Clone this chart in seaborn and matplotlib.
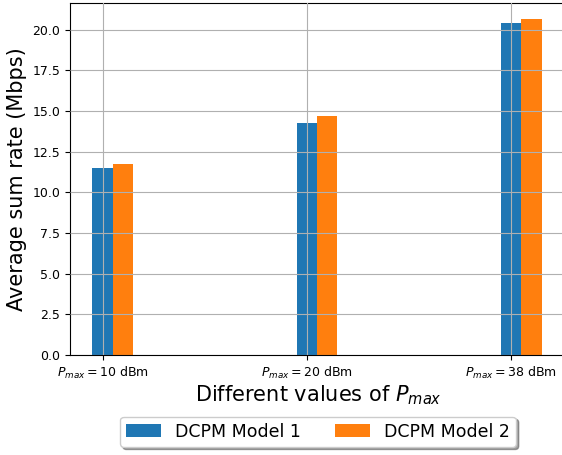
import matplotlib
matplotlib.use("Agg")
import matplotlib.pyplot as plt
import seaborn as sns
import pandas as pd

categories = ["$P_{max} = 10$ dBm", "$P_{max} = 20$ dBm", "$P_{max} = 38$ dBm"]
model1 = [11.49, 14.26, 20.40]
model2 = [11.74, 14.69, 20.65]
series_names = ["DCPM Model 1", "DCPM Model 2"]

df = pd.DataFrame({
    "cat": categories * 2,
    "value": model1 + model2,
    "model": [series_names[0]] * 3 + [series_names[1]] * 3,
})

plt.rcParams['font.family'] = ['DejaVu Sans']
fig = plt.figure(figsize=(5.62, 4.55), dpi=100)
ax = fig.add_axes([70 / 562, 1 - 355 / 455, (566 - 70) / 562, (355 - 2.5) / 455])

bar_w = 0.1
sns.barplot(data=df, x="cat", y="value", hue="model", order=categories,
            hue_order=series_names, palette=["#1f77b4", "#ff7f0e"],
            width=2 * bar_w, dodge=True, gap=0, ax=ax, errorbar=None,
            saturation=1, legend=True)

for p in ax.patches:
    p.set_edgecolor("none")
    p.set_linewidth(0)

n = len(categories)
ticks = [i - bar_w / 2 for i in range(n)]
ax.set_xticks(ticks)
ax.set_xticklabels(categories, fontsize=9)
lo = -bar_w - 0.11
hi = (n - 1) + bar_w + 0.12
ax.set_xlim(lo, hi)
ax.set_ylim(0, max(model2) * 1.05)
ax.set_yticks([0, 2.5, 5, 7.5, 10, 12.5, 15, 17.5, 20])
ax.set_yticklabels(["0.0", "2.5", "5.0", "7.5", "10.0", "12.5", "15.0", "17.5", "20.0"], fontsize=9)

ax.grid(True, color="#b0b0b0", linewidth=0.8)
ax.set_axisbelow(False)
for p in ax.patches:
    p.set_zorder(1)
for gl in ax.get_xgridlines() + ax.get_ygridlines():
    gl.set_zorder(1.5)

ax.set_xlabel("Different values of $P_{max}$", fontsize=15, labelpad=2)
ax.set_ylabel("Average sum rate (Mbps)", fontsize=15)

ax.get_legend().remove()
handles, labels = ax.get_legend_handles_labels()
leg = ax.legend(handles[:2], labels[:2], loc="upper center", bbox_to_anchor=(0.5, -0.15),
                ncol=2, fontsize=12.5, shadow=True, fancybox=True, frameon=True,
                columnspacing=2.0, borderpad=0.35)

fig.savefig("out.png", dpi=100)
